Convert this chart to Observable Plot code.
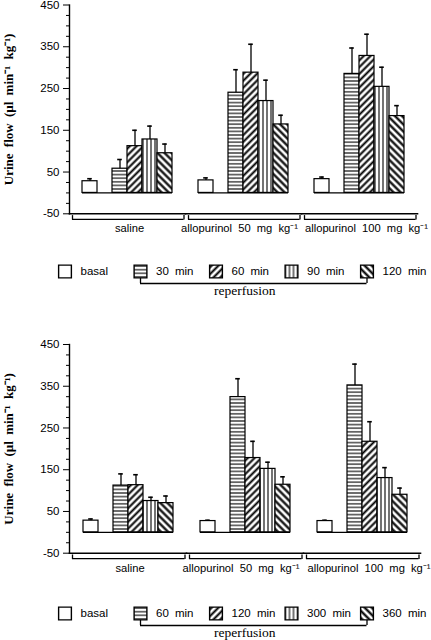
<!DOCTYPE html>
<html><head><meta charset="utf-8">
<script src="https://cdn.jsdelivr.net/npm/d3@7"></script>
<script src="https://cdn.jsdelivr.net/npm/@observablehq/plot@0.6"></script>
<style>
body{margin:0;background:#fff;width:431px;height:640px;overflow:hidden}
#root svg{display:block;overflow:visible}
#root svg text{word-spacing:3px}
#root g[aria-label="group label"] text{word-spacing:2.2px}
g[aria-label="y-axis label"] text{font-family:"Liberation Serif",serif;font-weight:bold;font-size:13px;word-spacing:7px}
</style>
</head><body>
<svg width="0" height="0" style="position:absolute">
<defs>
<pattern id="p-h" patternUnits="userSpaceOnUse" width="8" height="3.6">
<rect width="8" height="3.6" fill="white"/>
<line x1="0" x2="8" y1="1.8" y2="1.8" stroke="black" stroke-width="1.1"/>
</pattern>
<pattern id="p-d1" patternUnits="userSpaceOnUse" width="4.8" height="4.8" patternTransform="rotate(45)">
<rect width="4.8" height="4.8" fill="white"/>
<line x1="2.4" x2="2.4" y1="0" y2="4.8" stroke="black" stroke-width="2"/>
</pattern>
<pattern id="p-v" patternUnits="userSpaceOnUse" width="4" height="8">
<rect width="4" height="8" fill="white"/>
<line x1="2" x2="2" y1="0" y2="8" stroke="black" stroke-width="1.1"/>
</pattern>
<pattern id="p-d2" patternUnits="userSpaceOnUse" width="5" height="5" patternTransform="rotate(-45)">
<rect width="5" height="5" fill="white"/>
<line x1="2.5" x2="2.5" y1="0" y2="5" stroke="black" stroke-width="2.2"/>
</pattern>
</defs>
</svg>
<div id="root"></div>
<script>
// ---- data ----
const groups = ["saline", "allopurinol 50 mg kg\u207B\u00B9", "allopurinol 100 mg kg\u207B\u00B9"];
const seriesTop = ["basal", "30 min", "60 min", "90 min", "120 min"];
const seriesBottom = ["basal", "60 min", "120 min", "300 min", "360 min"];
// rows: groups, columns: series
const meanTop = [[28, 58, 112, 128, 95], [30, 240, 288, 220, 164], [33, 285, 328, 254, 184]];
const semTop = [[6, 22, 38, 32, 22], [6, 55, 68, 50, 22], [5, 62, 52, 47, 25]];
const meanBottom = [[28, 112, 113, 75, 70], [27, 324, 178, 152, 114], [27, 352, 217, 130, 90]];
const semBottom = [[4, 28, 25, 9, 17], [2, 44, 40, 16, 19], [2, 51, 48, 25, 16]];
const yTicks = [-50, 50, 150, 250, 350, 450];
const yLabel = "Urine flow (\u00B5l min\u207B\u00B9 kg\u207B\u00B9)";
const reperfusionLabel = "reperfusion";
const patternFills = ["white", "url(#p-h)", "url(#p-d1)", "url(#p-v)", "url(#p-d2)"];

const minorTicks = d3.range(-50, 451, 25).filter(t => !yTicks.includes(t));
const sansStyle = {fontFamily: "'Liberation Sans', Arial, sans-serif", fontSize: "11.5px", color: "black", background: "white"};
const vtick = {draw(ctx, size) { const h = Math.sqrt(size / Math.PI); ctx.moveTo(0, -h); ctx.lineTo(0, h); }};
const groupLabelShift = [2, -4, 7];

function chart({series, means, sems, marginTop, marginBottom, marginRight}) {
  const rows = groups.flatMap((g, gi) => series.map((s, si) => ({group: g, series: s, value: means[gi][si], err: sems[gi][si], fill: patternFills[si]})));
  const slots = [series[0], " ", ...series.slice(1)];
  return Plot.plot({
    width: 431, height: 245, marginLeft: 68, marginRight, marginTop, marginBottom,
    style: sansStyle,
    fx: {domain: groups, padding: 0, axis: null},
    x: {domain: slots, paddingInner: 0, paddingOuter: 0.8, axis: null},
    y: {domain: [-50, 450]},
    color: {type: "identity"},
    marks: [
      Plot.axisY(minorTicks, {tickSize: 3, tickFormat: () => "", label: null}),
      Plot.axisY(yTicks, {tickSize: 6, tickPadding: 4, tickFormat: d => String(d), label: yLabel, labelArrow: "none", labelAnchor: "center", labelOffset: 66}),
      Plot.frame({anchor: "left", facet: "super", strokeWidth: 1.4}),
      Plot.frame({anchor: "bottom", strokeWidth: 1.6}),
      Plot.ruleY([0], {x1: () => slots[0], x2: () => slots[slots.length - 1], strokeWidth: 1.2}),
      Plot.barY(rows, {fx: "group", x: "series", y: "value", fill: "fill", stroke: "black", strokeWidth: 1.2}),
      Plot.ruleX(rows, {fx: "group", x: "series", y1: "value", y2: d => d.value + d.err, strokeWidth: 1.3}),
      Plot.tickY(rows, {fx: "group", x: "series", y: d => d.value + d.err, insetLeft: 5.2, insetRight: 5.2, strokeWidth: 1.6}),
      Plot.ruleY([-50], {y: d => d, dy: 5.5, insetLeft: 3, insetRight: 1.5, strokeWidth: 1.3}),
      Plot.dot([-50], {y: d => d, frameAnchor: "left", dx: 3, dy: 3.5, r: 2.2, symbol: vtick, stroke: "black", fill: "none", strokeWidth: 1.3}),
      Plot.dot([-50], {y: d => d, frameAnchor: "right", dx: -1.5, dy: 3.5, r: 2.2, symbol: vtick, stroke: "black", fill: "none", strokeWidth: 1.3}),
      ...groups.map((g, gi) => Plot.text([g], {fx: d => d, text: d => d, frameAnchor: "bottom", dx: groupLabelShift[gi], dy: 18.5, fontSize: 11.2, ariaLabel: "group label"}))
    ]
  });
}

function legend({series, height, keyY, labelY}) {
  const items = series.map((s, i) => ({i, label: s, fill: patternFills[i]}));
  const first = 1, last = series.length - 1;
  return Plot.plot({
    width: 431, height, margin: 0,
    style: sansStyle,
    x: {domain: [0, series.length - 1], range: [64.5, 366.5], axis: null},
    y: {type: "point", domain: ["key", "bracket", "label"], range: [keyY, labelY], padding: 0, axis: null},
    color: {type: "identity"},
    marks: [
      Plot.ruleX([first, last], {x: d => d, y1: () => "key", y2: () => "bracket", strokeWidth: 1.3}),
      Plot.ruleY(["bracket"], {y: d => d, x1: () => first, x2: () => last, strokeWidth: 1.3}),
      Plot.dot(items, {x: "i", y: () => "key", symbol: "square", r: 7.2, fill: "fill", stroke: "black", strokeWidth: 1.4}),
      Plot.text(items, {x: "i", y: () => "key", text: "label", textAnchor: "start", dx: 15.5}),
      Plot.text([reperfusionLabel], {x: () => (first + last) / 2, y: () => "label", text: d => d, dx: -9, dy: -4.5, fontFamily: "'Liberation Serif', serif", fontSize: 13.5})
    ]
  });
}

const root = document.getElementById("root");
root.append(chart({series: seriesTop, means: meanTop, sems: semTop, marginTop: 4.5, marginBottom: 31.7, marginRight: 14}));
root.append(legend({series: seriesTop, height: 95, keyY: 25.5, labelY: 51}));
root.append(chart({series: seriesBottom, means: meanBottom, sems: semBottom, marginTop: 4, marginBottom: 32.3, marginRight: 10}));
root.append(legend({series: seriesBottom, height: 55, keyY: 26.7, labelY: 52.3}));
</script>
</body></html>
